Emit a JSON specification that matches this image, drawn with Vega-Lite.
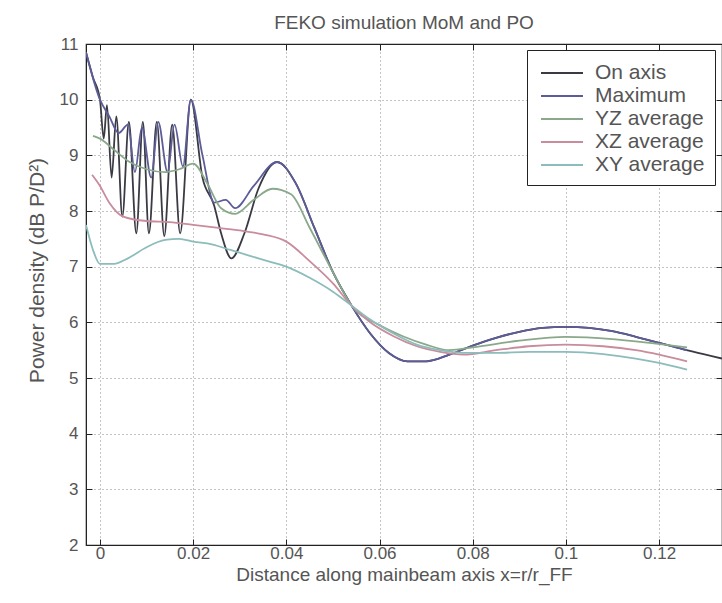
{
  "$schema": "https://vega.github.io/schema/vega-lite/v6.json",
  "width": 636,
  "height": 501,
  "autosize": {"type": "none"},
  "padding": {"left": 86, "top": 44, "right": 0, "bottom": 58},
  "background": "white",
  "title": {"text": "FEKO simulation MoM and PO", "font": "Liberation Sans", "fontSize": 19, "fontWeight": "normal", "color": "#555", "offset": 2, "anchor": "middle"},
  "config": {
    "view": {"stroke": "#222", "strokeWidth": 1.2},
    "axis": {"domainColor": "#222", "tickColor": "#222", "labelColor": "#555", "titleColor": "#555", "labelFont": "Liberation Sans", "labelFontSize": 17, "titleFont": "Liberation Sans", "titleFontSize": 19, "titleFontWeight": "normal", "gridColor": "#888", "gridDash": [1, 3], "gridWidth": 1}
  },
  "data": {"values": [
    {"s": "On axis", "x": -0.003, "y": 10.85}, {"s": "On axis", "x": -0.0015, "y": 10.4}, {"s": "On axis", "x": 0.0, "y": 10.0},
    {"s": "On axis", "x": 0.0008, "y": 9.3}, {"s": "On axis", "x": 0.0015, "y": 9.9}, {"s": "On axis", "x": 0.0025, "y": 8.6},
    {"s": "On axis", "x": 0.0035, "y": 9.7}, {"s": "On axis", "x": 0.0048, "y": 7.9}, {"s": "On axis", "x": 0.0062, "y": 9.6},
    {"s": "On axis", "x": 0.0078, "y": 7.6}, {"s": "On axis", "x": 0.0092, "y": 9.6}, {"s": "On axis", "x": 0.0105, "y": 7.6},
    {"s": "On axis", "x": 0.0122, "y": 9.6}, {"s": "On axis", "x": 0.0138, "y": 7.55}, {"s": "On axis", "x": 0.0155, "y": 9.55},
    {"s": "On axis", "x": 0.0172, "y": 7.6}, {"s": "On axis", "x": 0.0195, "y": 10.0}, {"s": "On axis", "x": 0.022, "y": 8.6},
    {"s": "On axis", "x": 0.0245, "y": 8.1}, {"s": "On axis", "x": 0.026, "y": 7.6}, {"s": "On axis", "x": 0.0282, "y": 7.15},
    {"s": "On axis", "x": 0.031, "y": 7.6}, {"s": "On axis", "x": 0.034, "y": 8.4}, {"s": "On axis", "x": 0.038, "y": 8.88},
    {"s": "On axis", "x": 0.042, "y": 8.5}, {"s": "On axis", "x": 0.046, "y": 7.7}, {"s": "On axis", "x": 0.05, "y": 6.9},
    {"s": "On axis", "x": 0.054, "y": 6.3}, {"s": "On axis", "x": 0.058, "y": 5.8}, {"s": "On axis", "x": 0.062, "y": 5.45},
    {"s": "On axis", "x": 0.066, "y": 5.3}, {"s": "On axis", "x": 0.07, "y": 5.3}, {"s": "On axis", "x": 0.075, "y": 5.42},
    {"s": "On axis", "x": 0.08, "y": 5.58}, {"s": "On axis", "x": 0.085, "y": 5.72}, {"s": "On axis", "x": 0.09, "y": 5.83},
    {"s": "On axis", "x": 0.095, "y": 5.9}, {"s": "On axis", "x": 0.1, "y": 5.92}, {"s": "On axis", "x": 0.105, "y": 5.9},
    {"s": "On axis", "x": 0.11, "y": 5.84}, {"s": "On axis", "x": 0.115, "y": 5.74}, {"s": "On axis", "x": 0.12, "y": 5.63},
    {"s": "On axis", "x": 0.125, "y": 5.52}, {"s": "On axis", "x": 0.13, "y": 5.42}, {"s": "On axis", "x": 0.1335, "y": 5.35},

    {"s": "Maximum", "x": -0.003, "y": 10.85}, {"s": "Maximum", "x": 0.0, "y": 10.0}, {"s": "Maximum", "x": 0.002, "y": 9.7},
    {"s": "Maximum", "x": 0.004, "y": 9.4}, {"s": "Maximum", "x": 0.006, "y": 9.55}, {"s": "Maximum", "x": 0.0075, "y": 8.7},
    {"s": "Maximum", "x": 0.009, "y": 9.5}, {"s": "Maximum", "x": 0.011, "y": 8.6}, {"s": "Maximum", "x": 0.0125, "y": 9.6},
    {"s": "Maximum", "x": 0.0145, "y": 8.7}, {"s": "Maximum", "x": 0.016, "y": 9.55}, {"s": "Maximum", "x": 0.0178, "y": 8.8},
    {"s": "Maximum", "x": 0.0195, "y": 10.0}, {"s": "Maximum", "x": 0.022, "y": 9.0}, {"s": "Maximum", "x": 0.0245, "y": 8.15},
    {"s": "Maximum", "x": 0.027, "y": 8.2}, {"s": "Maximum", "x": 0.029, "y": 8.05}, {"s": "Maximum", "x": 0.033, "y": 8.45},
    {"s": "Maximum", "x": 0.038, "y": 8.88}, {"s": "Maximum", "x": 0.042, "y": 8.5}, {"s": "Maximum", "x": 0.046, "y": 7.7},
    {"s": "Maximum", "x": 0.05, "y": 6.9}, {"s": "Maximum", "x": 0.054, "y": 6.3}, {"s": "Maximum", "x": 0.058, "y": 5.8},
    {"s": "Maximum", "x": 0.062, "y": 5.45}, {"s": "Maximum", "x": 0.066, "y": 5.3}, {"s": "Maximum", "x": 0.07, "y": 5.3},
    {"s": "Maximum", "x": 0.075, "y": 5.42}, {"s": "Maximum", "x": 0.08, "y": 5.58}, {"s": "Maximum", "x": 0.085, "y": 5.72},
    {"s": "Maximum", "x": 0.09, "y": 5.83}, {"s": "Maximum", "x": 0.095, "y": 5.9}, {"s": "Maximum", "x": 0.1, "y": 5.92},
    {"s": "Maximum", "x": 0.105, "y": 5.9}, {"s": "Maximum", "x": 0.11, "y": 5.84}, {"s": "Maximum", "x": 0.115, "y": 5.74},
    {"s": "Maximum", "x": 0.12, "y": 5.63}, {"s": "Maximum", "x": 0.126, "y": 5.5},

    {"s": "YZ average", "x": -0.0015, "y": 9.35}, {"s": "YZ average", "x": 0.0, "y": 9.3}, {"s": "YZ average", "x": 0.003, "y": 9.1},
    {"s": "YZ average", "x": 0.006, "y": 8.9}, {"s": "YZ average", "x": 0.01, "y": 8.75}, {"s": "YZ average", "x": 0.014, "y": 8.7},
    {"s": "YZ average", "x": 0.017, "y": 8.75}, {"s": "YZ average", "x": 0.02, "y": 8.85}, {"s": "YZ average", "x": 0.023, "y": 8.5},
    {"s": "YZ average", "x": 0.026, "y": 8.05}, {"s": "YZ average", "x": 0.029, "y": 7.95}, {"s": "YZ average", "x": 0.033, "y": 8.2},
    {"s": "YZ average", "x": 0.037, "y": 8.4}, {"s": "YZ average", "x": 0.041, "y": 8.3}, {"s": "YZ average", "x": 0.045, "y": 7.7},
    {"s": "YZ average", "x": 0.05, "y": 6.9}, {"s": "YZ average", "x": 0.054, "y": 6.3}, {"s": "YZ average", "x": 0.06, "y": 5.95},
    {"s": "YZ average", "x": 0.065, "y": 5.75}, {"s": "YZ average", "x": 0.07, "y": 5.6}, {"s": "YZ average", "x": 0.075, "y": 5.5},
    {"s": "YZ average", "x": 0.08, "y": 5.55}, {"s": "YZ average", "x": 0.09, "y": 5.67}, {"s": "YZ average", "x": 0.1, "y": 5.74},
    {"s": "YZ average", "x": 0.11, "y": 5.7}, {"s": "YZ average", "x": 0.118, "y": 5.63}, {"s": "YZ average", "x": 0.126, "y": 5.55},

    {"s": "XZ average", "x": -0.0017, "y": 8.65}, {"s": "XZ average", "x": 0.0, "y": 8.45}, {"s": "XZ average", "x": 0.002, "y": 8.15},
    {"s": "XZ average", "x": 0.005, "y": 7.9}, {"s": "XZ average", "x": 0.01, "y": 7.82}, {"s": "XZ average", "x": 0.015, "y": 7.8},
    {"s": "XZ average", "x": 0.02, "y": 7.75}, {"s": "XZ average", "x": 0.025, "y": 7.7}, {"s": "XZ average", "x": 0.03, "y": 7.65},
    {"s": "XZ average", "x": 0.035, "y": 7.58}, {"s": "XZ average", "x": 0.04, "y": 7.45}, {"s": "XZ average", "x": 0.045, "y": 7.1},
    {"s": "XZ average", "x": 0.05, "y": 6.7}, {"s": "XZ average", "x": 0.054, "y": 6.3}, {"s": "XZ average", "x": 0.058, "y": 6.0},
    {"s": "XZ average", "x": 0.063, "y": 5.75}, {"s": "XZ average", "x": 0.068, "y": 5.57}, {"s": "XZ average", "x": 0.073, "y": 5.47},
    {"s": "XZ average", "x": 0.078, "y": 5.42}, {"s": "XZ average", "x": 0.085, "y": 5.5}, {"s": "XZ average", "x": 0.092, "y": 5.57},
    {"s": "XZ average", "x": 0.1, "y": 5.6}, {"s": "XZ average", "x": 0.108, "y": 5.57}, {"s": "XZ average", "x": 0.115, "y": 5.5},
    {"s": "XZ average", "x": 0.12, "y": 5.42}, {"s": "XZ average", "x": 0.126, "y": 5.3},

    {"s": "XY average", "x": -0.003, "y": 7.75}, {"s": "XY average", "x": -0.0015, "y": 7.3}, {"s": "XY average", "x": 0.0, "y": 7.05},
    {"s": "XY average", "x": 0.003, "y": 7.05}, {"s": "XY average", "x": 0.006, "y": 7.15}, {"s": "XY average", "x": 0.01, "y": 7.35},
    {"s": "XY average", "x": 0.014, "y": 7.48}, {"s": "XY average", "x": 0.017, "y": 7.5}, {"s": "XY average", "x": 0.02, "y": 7.45},
    {"s": "XY average", "x": 0.024, "y": 7.4}, {"s": "XY average", "x": 0.028, "y": 7.3}, {"s": "XY average", "x": 0.032, "y": 7.2},
    {"s": "XY average", "x": 0.036, "y": 7.1}, {"s": "XY average", "x": 0.04, "y": 7.0}, {"s": "XY average", "x": 0.045, "y": 6.8},
    {"s": "XY average", "x": 0.05, "y": 6.55}, {"s": "XY average", "x": 0.054, "y": 6.3}, {"s": "XY average", "x": 0.058, "y": 6.05},
    {"s": "XY average", "x": 0.063, "y": 5.8}, {"s": "XY average", "x": 0.068, "y": 5.6}, {"s": "XY average", "x": 0.073, "y": 5.5},
    {"s": "XY average", "x": 0.078, "y": 5.45}, {"s": "XY average", "x": 0.085, "y": 5.45}, {"s": "XY average", "x": 0.092, "y": 5.47},
    {"s": "XY average", "x": 0.1, "y": 5.47}, {"s": "XY average", "x": 0.108, "y": 5.43}, {"s": "XY average", "x": 0.115, "y": 5.35},
    {"s": "XY average", "x": 0.12, "y": 5.27}, {"s": "XY average", "x": 0.126, "y": 5.15}
  ]},
  "layer": [
    {
      "mark": {"type": "line", "strokeWidth": 1.8, "clip": true, "interpolate": "monotone"},
      "encoding": {
        "x": {"field": "x", "type": "quantitative",
          "scale": {"domain": [-0.003, 0.1335], "nice": false, "zero": false},
          "axis": {"values": [0, 0.02, 0.04, 0.06, 0.08, 0.1, 0.12], "format": "~g", "tickSize": -6, "labelPadding": 6, "grid": true,
            "title": "Distance along mainbeam axis x=r/r_FF", "titlePadding": 4}},
        "y": {"field": "y", "type": "quantitative",
          "scale": {"domain": [2, 11], "nice": false, "zero": false},
          "axis": {"values": [2, 3, 4, 5, 6, 7, 8, 9, 10, 11], "tickSize": -6, "labelPadding": 14, "grid": true,
            "title": "Power density (dB P/D²)", "titleFontSize": 21, "titlePadding": 12, "titleY": 226}},
        "color": {"field": "s", "type": "nominal",
          "scale": {"domain": ["On axis", "Maximum", "YZ average", "XZ average", "XY average"],
                    "range": ["#3a3a44", "#5c5c98", "#8aa88a", "#c88c9c", "#8cbcbc"]},
          "legend": {"orient": "none", "legendX": 441, "legendY": 6, "title": null, "strokeColor": "#222", "fillColor": "white",
            "padding": 10, "symbolType": "M-1.75,0L1.75,0", "symbolSize": 576, "symbolOffset": 12, "symbolStrokeWidth": 2, "labelOffset": 20,
            "labelFont": "Liberation Sans", "labelFontSize": 21, "labelColor": "#555", "rowPadding": 0}}
      }
    },
    {
      "mark": {"type": "line", "opacity": 0},
      "encoding": {
        "x": {"field": "x", "type": "quantitative", "axis": {"orient": "top", "values": [0, 0.02, 0.04, 0.06, 0.08, 0.1, 0.12], "labels": false, "title": null, "grid": false, "tickSize": -6}},
        "y": {"field": "y", "type": "quantitative", "axis": {"orient": "right", "values": [2, 3, 4, 5, 6, 7, 8, 9, 10, 11], "labels": false, "title": null, "grid": false, "tickSize": -6}},
        "detail": {"field": "s"}
      }
    }
  ],
  "resolve": {"axis": {"x": "independent", "y": "independent"}}
}
